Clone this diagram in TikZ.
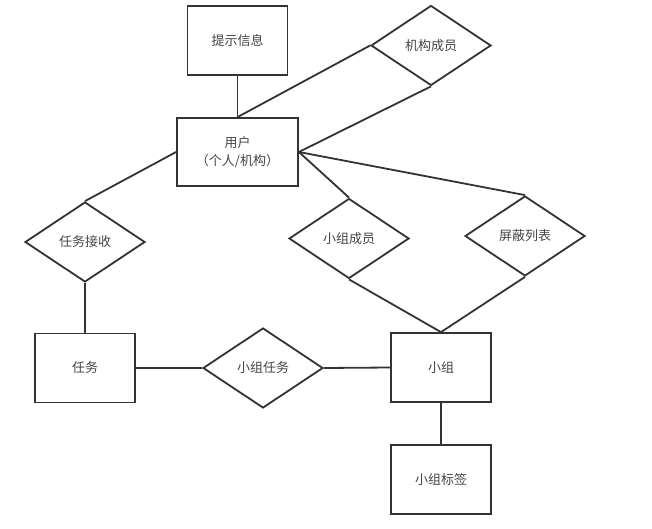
\documentclass[tikz,border=0pt]{standalone}
\usepackage{fontspec}
\setmainfont{Noto Sans CJK SC}
\usetikzlibrary{shapes.geometric}
\definecolor{linegray}{HTML}{333333}
\definecolor{textgray}{HTML}{444444}
\tikzset{
  entity/.style={draw=linegray, line width=1.8pt, rectangle, minimum width=100pt, minimum height=69pt, inner sep=0pt, text=textgray, font=\fontsize{13}{18}\selectfont},
  relation/.style={draw=linegray, line width=1.8pt, diamond, minimum width=120pt, minimum height=80pt, inner sep=0pt, text=textgray, font=\fontsize{13}{18}\selectfont},
  link/.style={draw=linegray, line width=1.8pt}
}
\begin{document}
\begin{tikzpicture}[x=1pt, y=-1pt]
\useasboundingbox (0,0) rectangle (652,529);
% entities
\node[entity] (tip) at (237.5,40.5) {提示信息};
\node[entity, minimum width=121pt, minimum height=68pt, align=center] (user) at (237.5,152) {用户\\（个人/机构）};
\node[entity] (task) at (85,368) {任务};
\node[entity] (group) at (441,367.5) {小组};
\node[entity] (tag) at (441,479.5) {小组标签};
% relations
\node[relation] (orgmem) at (431,45.5) {机构成员};
\node[relation] (accept) at (85,242) {任务接收};
\node[relation] (grpmem) at (349,238.5) {小组成员};
\node[relation] (block) at (525,236) {屏蔽列表};
\node[relation] (grptask) at (263,368) {小组任务};
% connectors
\draw[link] (tip.south) -- (user.north);
\draw[link] (user.north) -- (orgmem.west);
\draw[link] (user.east) -- (orgmem.south);
\draw[link] (user.east) -- (grpmem.north);
\draw[link] (user.east) -- (block.north);
\draw[link] (user.west) -- (accept.north);
\draw[link] (accept.south) -- (task.north);
\draw[link] (task.east) -- (grptask.west);
\draw[link] (grptask.east) -- (group.west);
\draw[link] (grpmem.south) -- (group.north);
\draw[link] (block.south) -- (group.north);
\draw[link] (group.south) -- (tag.north);
\end{tikzpicture}
\end{document}
